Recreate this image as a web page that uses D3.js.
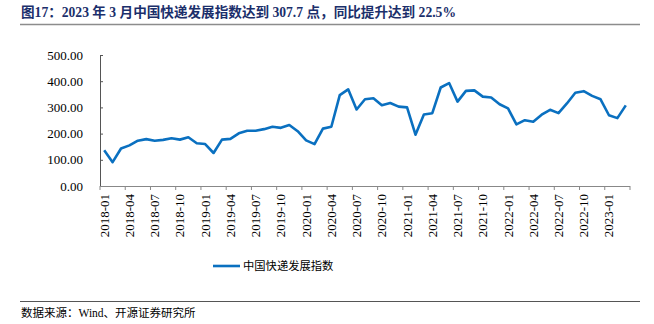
<!DOCTYPE html>
<html>
<head>
<meta charset="utf-8">
<script src="https://cdn.jsdelivr.net/npm/d3@7/dist/d3.min.js"></script>
<style>
  html, body { margin: 0; padding: 0; background: #fff; }
  svg { display: block; }
</style>
</head>
<body>
<svg id="chart" width="654" height="324"></svg>
<script>
// China express development index, monthly, 2018-01 .. 2023-03
const months = [];
for (let yr = 2018; yr <= 2023; yr++) {
  for (let m = 1; m <= 12; m++) {
    if (yr === 2023 && m > 3) break;
    months.push(yr + "-" + String(m).padStart(2, "0"));
  }
}
const indexValues = [
  136, 91, 143, 155, 173, 179, 173, 176, 182, 177, 186, 163,
  160, 126, 177, 180, 201, 211, 211, 217, 226, 222, 233, 209,
  174, 160, 219, 226, 347, 369, 292, 331, 335, 308, 317, 303,
  300, 196, 273, 278, 376, 393, 322, 363, 365, 341, 338, 312,
  296, 235, 251.2, 245, 272, 291, 278, 315, 356, 362, 344, 331,
  270, 259, 307.7
];
const yTicks = [0, 100, 200, 300, 400, 500];
const seriesName = "中国快递发展指数";
const titleText = "图17：2023 年 3 月中国快递发展指数达到 307.7 点，同比提升达到 22.5%";
const sourceText = "数据来源：Wind、开源证券研究所";

(function draw() {
  const svg = d3.select("#chart");
  const serif = "'Liberation Serif', 'Times New Roman', serif";
  const cjk = "'Noto Sans CJK SC', sans-serif";

  // Title and rule under it
  svg.append("text")
    .attr("x", 21).attr("y", 17)
    .attr("font-family", serif + ", " + cjk)
    .attr("font-size", 13.6).attr("font-weight", "bold")
    .attr("fill", "#1b2f6b")
    .text(titleText);
  svg.append("line")
    .attr("x1", 20).attr("x2", 640).attr("y1", 24.5).attr("y2", 24.5)
    .attr("stroke", "#8c8c8c").attr("stroke-width", 1.5);

  // Plot area
  const plotLeft = 100, plotRight = 630, plotTop = 55, plotBottom = 186;

  const x = d3.scaleBand().domain(months).range([plotLeft, plotRight]).padding(0);
  const y = d3.scaleLinear().domain([0, 500]).range([plotBottom, plotTop]);

  // Y axis
  const yAxis = d3.axisLeft(y).tickValues(yTicks)
    .tickFormat(d => d3.format(".2f")(d)).tickSizeInner(-3).tickSizeOuter(0).tickPadding(17);
  const gy = svg.append("g").attr("transform", `translate(${plotLeft},0)`).call(yAxis);
  gy.select(".domain").attr("stroke", "#555");
  gy.selectAll(".tick line").attr("stroke", "#555");
  gy.selectAll("text").attr("font-family", serif).attr("font-size", 13).attr("fill", "#000");

  // X axis: tick marks on band edges every quarter, labels centred on bands
  const gx = svg.append("g").attr("transform", `translate(0,${plotBottom})`);
  gx.append("line").attr("x1", plotLeft).attr("x2", plotRight).attr("y1", 0.5).attr("y2", 0.5)
    .attr("stroke", "#888").attr("stroke-width", 1.2);
  const edgeIdx = d3.range(0, months.length + 1).filter(i => i % 3 === 0 || i === months.length);
  gx.selectAll("line.tk").data(edgeIdx).join("line").attr("class", "tk")
    .attr("x1", i => (i < months.length ? x(months[i]) : plotRight))
    .attr("x2", i => (i < months.length ? x(months[i]) : plotRight))
    .attr("y1", 0).attr("y2", 4).attr("stroke", "#888");
  const labelMonths = months.filter((m, i) => i % 3 === 0);
  gx.selectAll("text").data(labelMonths).join("text")
    .attr("transform", d => `translate(${x(d) + x.bandwidth() / 2 + 4.5},8) rotate(-90)`)
    .attr("text-anchor", "end")
    .attr("font-family", serif).attr("font-size", 13).attr("fill", "#000")
    .text(d => d);

  // Index line
  const line = d3.line()
    .x((d, i) => x(months[i]) + x.bandwidth() / 2)
    .y(d => y(d));
  svg.append("path").datum(indexValues)
    .attr("d", line)
    .attr("fill", "none").attr("stroke", "#0a70c0")
    .attr("stroke-width", 2.6).attr("stroke-linejoin", "round");

  // Legend
  svg.append("line").attr("x1", 213).attr("x2", 240).attr("y1", 266).attr("y2", 266)
    .attr("stroke", "#0a70c0").attr("stroke-width", 2.6);
  svg.append("text").attr("x", 243).attr("y", 270)
    .attr("font-family", cjk).attr("font-size", 11.3).attr("fill", "#000")
    .text(seriesName);

  // Source note
  svg.append("line")
    .attr("x1", 20).attr("x2", 640).attr("y1", 301.5).attr("y2", 301.5)
    .attr("stroke", "#555").attr("stroke-width", 1);
  svg.append("text").attr("x", 21).attr("y", 317)
    .attr("font-family", serif + ", " + cjk).attr("font-size", 11.5).attr("fill", "#000")
    .text(sourceText);
})();
</script>
</body>
</html>
